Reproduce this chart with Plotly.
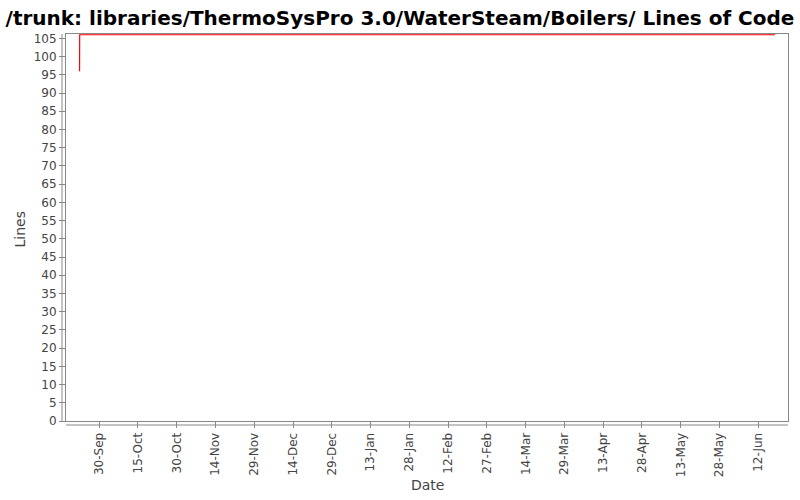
import plotly.graph_objects as go

dates = ["2012-09-22 10:00", "2012-09-22 11:00", "2013-06-18 12:00"]
lines = [96, 106, 106]

tick_dates = ["2012-09-30", "2012-10-15", "2012-10-30", "2012-11-14", "2012-11-29",
              "2012-12-14", "2012-12-29", "2013-01-13", "2013-01-28", "2013-02-12",
              "2013-02-27", "2013-03-14", "2013-03-29", "2013-04-13", "2013-04-28",
              "2013-05-13", "2013-05-28", "2013-06-12"]
tick_labels = ["30-Sep", "15-Oct", "30-Oct", "14-Nov", "29-Nov", "14-Dec", "29-Dec",
               "13-Jan", "28-Jan", "12-Feb", "27-Feb", "14-Mar", "29-Mar", "13-Apr",
               "28-Apr", "13-May", "28-May", "12-Jun"]
y_ticks = list(range(0, 106, 5))

fig = go.Figure()
fig.add_trace(go.Scatter(x=dates, y=lines, mode="lines",
                         line=dict(color="#ff0000", width=1.2, shape="linear"),
                         hoverinfo="skip", showlegend=False))

font = "DejaVu Sans"
L, R, T, B = 66, 12, 34, 79
pw, ph = 800 - L - R, 500 - T - B
fig.update_layout(
    width=800, height=500,
    margin=dict(l=L, r=R, t=T, b=B, autoexpand=False),
    paper_bgcolor="white", plot_bgcolor="white",
    title=dict(text="<b>/trunk: libraries/ThermoSysPro 3.0/WaterSteam/Boilers/ Lines of Code</b>",
               x=0.5, xanchor="center", y=1 - 18 / 500, yanchor="middle",
               font=dict(family=font, size=20, color="black")),
    xaxis=dict(range=["2012-09-17 04:00", "2013-06-23 12:00"], type="date",
               tickvals=tick_dates, ticktext=tick_labels, tickangle=-90,
               tickfont=dict(family=font, size=12, color="#444444"),
               ticks="outside", ticklen=6, tickcolor="#888888",
               showgrid=False, zeroline=False, automargin=False,
               showline=True, linecolor="#888888", mirror=True, linewidth=1),
    yaxis=dict(range=[0, 106.2], tickvals=y_ticks,
               tickfont=dict(family=font, size=12, color="#444444"),
               ticks="outside", ticklen=6, tickcolor="#888888",
               showgrid=False, zeroline=False, automargin=False,
               showline=True, linecolor="#888888", mirror=True, linewidth=1),
)
# offset axis lines (4px outside the plot border)
fig.add_shape(type="line", xref="paper", yref="paper",
              x0=-4 / pw, x1=-4 / pw, y0=0, y1=1, line=dict(color="#888888", width=1))
fig.add_shape(type="line", xref="paper", yref="paper",
              x0=0, x1=1, y0=-4 / ph, y1=-4 / ph, line=dict(color="#888888", width=1))
# axis titles
fig.add_annotation(text="Date", xref="paper", yref="paper", x=0.5, y=-(485 - 421) / ph,
                   xanchor="center", yanchor="middle", showarrow=False,
                   font=dict(family=font, size=14, color="#444444"))
fig.add_annotation(text="Lines", xref="paper", yref="paper", x=-(66 - 20) / pw, y=0.5 - 2 / ph,
                   xanchor="center", yanchor="middle", showarrow=False, textangle=-90,
                   font=dict(family=font, size=14, color="#444444"))

fig.write_html("out.html", config={"displayModeBar": False},
               post_script="document.body.style.margin='0';")
